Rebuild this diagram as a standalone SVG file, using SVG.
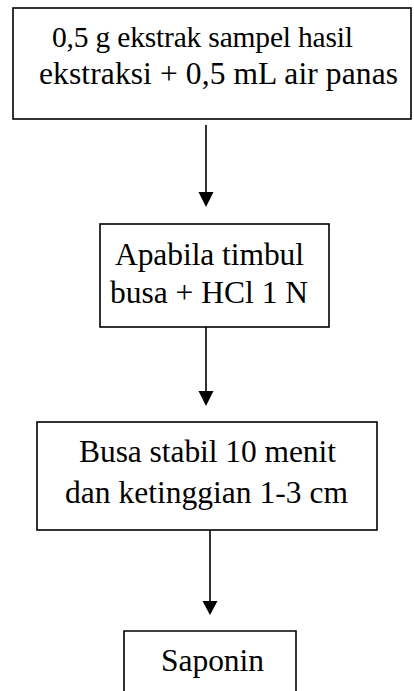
<svg xmlns="http://www.w3.org/2000/svg" width="414" height="691" viewBox="0 0 414 691">
  <style>
    .box { fill: #ffffff; stroke: #000000; stroke-width: 1.6; }
    .label { font-family: "Liberation Serif", "Times New Roman", serif; font-size: 31.5px; fill: #000000; }
    .link { stroke: #000000; stroke-width: 1.6; fill: none; }
    .head { fill: #000000; }
  </style>
  <rect width="414" height="691" fill="#ffffff"/>

  <g id="connectors">
    <path class="link" d="M206,125 V194"/>
    <path class="head" d="M198.5,192 L213.5,192 L206,207 Z"/>
    <path class="link" d="M206,327 V393"/>
    <path class="head" d="M198.5,391 L213.5,391 L206,406 Z"/>
    <path class="link" d="M210,530 V603"/>
    <path class="head" d="M202.5,601 L217.5,601 L210,615 Z"/>
  </g>

  <g id="node-ekstrak">
    <rect class="box" x="13" y="8" width="398" height="111"/>
    <text class="label" x="52" y="47" style="font-size:29.5px" textLength="301" lengthAdjust="spacing">0,5 g ekstrak sampel hasil</text>
    <text class="label" x="39" y="84" textLength="359" lengthAdjust="spacing">ekstraksi + 0,5 mL air panas</text>
  </g>

  <g id="node-busa-hcl">
    <rect class="box" x="100" y="224" width="229" height="103"/>
    <text class="label" x="115" y="265" textLength="189" lengthAdjust="spacing">Apabila timbul</text>
    <text class="label" x="110" y="303" textLength="198" lengthAdjust="spacing">busa + HCl 1 N</text>
  </g>

  <g id="node-busa-stabil">
    <rect class="box" x="37" y="422" width="340" height="108"/>
    <text class="label" x="79" y="462" textLength="257" lengthAdjust="spacing">Busa stabil 10 menit</text>
    <text class="label" x="65" y="503" textLength="283" lengthAdjust="spacing">dan ketinggian 1-3 cm</text>
  </g>

  <g id="node-saponin">
    <path class="box" d="M124,700 V631 H296 V700"/>
    <text class="label" x="161" y="671" textLength="103" lengthAdjust="spacing">Saponin</text>
  </g>
</svg>
